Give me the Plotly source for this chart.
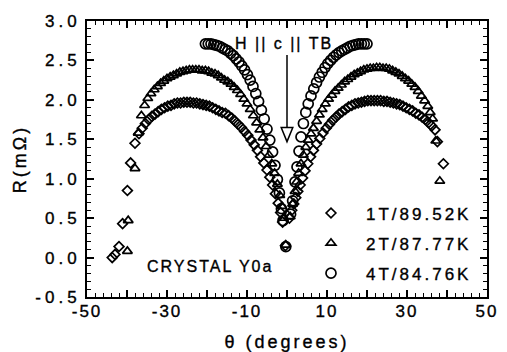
import plotly.graph_objects as go

# Resistance vs field angle for crystal Y0a at three field/temperature settings
theta_1T = [-43.7, -43.0, -42.0, -41.1, -39.9, -39.1, -38.0, -37.0, -36.2, -35.4,
            -34.6, -33.8, -33.0, -32.2, -31.4, -30.6, -29.8, -29.0, -28.2, -27.4,
            -26.6, -25.8, -25.0, -24.2, -23.4, -22.6, -21.8, -21.0, -20.2, -19.4,
            -18.6, -17.8, -17.0, -16.2, -15.4, -14.6, -13.8, -13.0, -12.2, -11.4,
            -10.6, -9.8, -9.0, -8.2, -7.4, -6.6, -5.8, -5.0, -4.3, -3.6,
            -2.9, -2.2, -1.6, -1.1, -0.4, 0.6, 1.2, 1.7, 2.2, 2.7,
            3.3, 3.9, 4.5, 5.2, 5.9, 6.6, 7.4, 8.2, 9.0, 9.8,
            10.6, 11.4, 12.2, 13.0, 13.8, 14.6, 15.4, 16.2, 17.0, 17.8,
            18.6, 19.4, 20.2, 21.0, 21.8, 22.6, 23.4, 24.2, 25.0, 25.8,
            26.6, 27.4, 28.2, 29.0, 29.8, 30.6, 31.4, 32.2, 33.0, 33.8,
            34.6, 35.4, 36.2, 37.0, 37.6, 39.1]
r_1T = [0.00, 0.04, 0.14, 0.43, 0.85, 1.20, 1.45, 1.57, 1.64, 1.70,
        1.75, 1.79, 1.82, 1.85, 1.88, 1.90, 1.92, 1.93, 1.95, 1.96,
        1.96, 1.97, 1.97, 1.97, 1.96, 1.96, 1.95, 1.94, 1.93, 1.92,
        1.90, 1.88, 1.86, 1.84, 1.83, 1.80, 1.77, 1.73, 1.69, 1.65,
        1.60, 1.55, 1.49, 1.43, 1.36, 1.28, 1.20, 1.11, 1.02, 0.92,
        0.81, 0.69, 0.57, 0.45, 0.15, 0.50, 0.60, 0.68, 0.76, 0.84,
        0.92, 1.01, 1.10, 1.19, 1.28, 1.36, 1.44, 1.51, 1.58, 1.64,
        1.69, 1.74, 1.78, 1.82, 1.85, 1.88, 1.91, 1.93, 1.95, 1.96,
        1.97, 1.98, 1.99, 1.99, 1.99, 1.99, 1.99, 1.98, 1.98, 1.97,
        1.96, 1.95, 1.94, 1.92, 1.90, 1.88, 1.86, 1.83, 1.81, 1.78,
        1.75, 1.71, 1.67, 1.62, 1.47, 1.19]

theta_2T = [-39.9, -39.7, -38.0, -37.2, -36.4, -35.6, -34.8, -34.0, -33.2, -32.4,
            -31.6, -30.8, -30.0, -29.2, -28.4, -27.6, -26.8, -26.0, -25.2, -24.4,
            -23.6, -22.8, -22.0, -21.2, -20.4, -19.6, -18.8, -18.0, -17.2, -16.4,
            -15.6, -14.8, -14.0, -13.2, -12.4, -11.6, -10.8, -10.0, -9.2, -8.4,
            -7.6, -6.8, -6.0, -5.2, -4.5, -3.8, -3.1, -2.4, -1.8, -1.3,
            -0.9, -0.3, 0.8, 1.4, 2.0, 2.4, 2.9, 3.5, 4.1, 4.7,
            5.3, 6.0, 6.6, 7.4, 8.1, 8.8, 9.6, 10.4, 11.2, 12.0,
            12.8, 13.6, 14.4, 15.2, 16.0, 16.8, 17.6, 18.4, 19.2, 20.0,
            20.8, 21.6, 22.4, 23.2, 24.0, 24.8, 25.6, 26.4, 27.2, 28.0,
            28.8, 29.6, 30.4, 31.2, 32.0, 32.8, 33.6, 34.4, 35.2, 35.8,
            36.4, 37.2, 38.2]
r_2T = [0.08, 0.47, 1.13, 1.58, 1.80, 1.93, 2.02, 2.08, 2.13, 2.17,
        2.21, 2.24, 2.27, 2.29, 2.31, 2.33, 2.35, 2.36, 2.37, 2.38,
        2.38, 2.38, 2.38, 2.37, 2.37, 2.36, 2.34, 2.33, 2.31, 2.28,
        2.25, 2.23, 2.20, 2.16, 2.12, 2.07, 2.01, 1.95, 1.88, 1.80,
        1.71, 1.62, 1.52, 1.41, 1.30, 1.19, 1.07, 0.93, 0.79, 0.65,
        0.50, 0.16, 0.52, 0.68, 0.84, 0.96, 1.07, 1.19, 1.30, 1.40,
        1.49, 1.57, 1.64, 1.73, 1.81, 1.88, 1.95, 2.01, 2.06, 2.11,
        2.15, 2.19, 2.23, 2.26, 2.29, 2.32, 2.34, 2.36, 2.38, 2.39,
        2.40, 2.40, 2.41, 2.41, 2.40, 2.40, 2.39, 2.37, 2.35, 2.33,
        2.30, 2.27, 2.24, 2.20, 2.16, 2.11, 2.05, 1.99, 1.92, 1.84,
        1.76, 1.48, 0.97]

theta_4T = [-20.4, -19.7, -19.0, -18.3, -17.6, -16.9, -16.2, -15.5, -14.8, -14.1,
            -13.4, -12.7, -12.0, -11.3, -10.6, -9.9, -9.2, -8.5, -7.8, -7.1,
            -6.4, -5.7, -5.0, -4.3, -3.6, -3.0, -2.4, -1.9, -1.4, -1.0,
            -0.3, 0.9, 1.4, 2.0, 2.5, 3.0, 3.5, 4.1, 4.7, 5.3,
            6.0, 6.7, 7.4, 8.1, 8.8, 9.5, 10.2, 10.9, 11.6, 12.3,
            13.0, 13.7, 14.4, 15.1, 15.8, 16.5, 17.2, 17.9, 18.6, 19.3, 20.0]
r_4T = [2.71, 2.71, 2.71, 2.70, 2.69, 2.68, 2.66, 2.64, 2.62, 2.59,
        2.56, 2.52, 2.48, 2.43, 2.38, 2.32, 2.25, 2.17, 2.08, 1.98,
        1.87, 1.76, 1.63, 1.49, 1.34, 1.17, 0.99, 0.82, 0.62, 0.47,
        0.14, 0.55, 0.72, 0.96, 1.15, 1.35, 1.53, 1.70, 1.84, 1.95,
        2.05, 2.14, 2.22, 2.29, 2.35, 2.41, 2.46, 2.50, 2.54, 2.57,
        2.60, 2.62, 2.64, 2.66, 2.68, 2.69, 2.70, 2.71, 2.71, 2.71, 2.71]

series_names = ["1T/89.52K", "2T/87.77K", "4T/84.76K"]

x_tick_vals = [-50, -40, -30, -20, -10, 0, 10, 20, 30, 40, 50]
x_tick_text = ["-50", "", "-30", "", "-10", "", "10", "", "30", "", "50"]
y_tick_vals = [-0.5, 0.0, 0.5, 1.0, 1.5, 2.0, 2.5, 3.0]
y_tick_text = ["-0.5", "0.0", "0.5", "1.0", "1.5", "2.0", "2.5", "3.0"]

FONT = "Liberation Sans, Arial, Helvetica, sans-serif"

fig = go.Figure()
styles = [("diamond-open", 7.5), ("triangle-up-open", 8.5), ("circle-open", 10)]
for name, th, r, (sym, size) in zip(series_names,
                                    [theta_1T, theta_2T, theta_4T],
                                    [r_1T, r_2T, r_4T], styles):
    fig.add_trace(go.Scatter(
        x=th, y=r, mode="markers", name=name, legendgroup=name,
        marker=dict(symbol=sym, size=size, color="black",
                    line=dict(color="black", width=1.7)),
    ))

axis_common = dict(
    showline=True, linewidth=2, linecolor="black", mirror="ticks",
    ticks="inside", ticklen=7, tickwidth=1.5, tickcolor="black",
    showgrid=False, zeroline=False,
    tickfont=dict(family=FONT, size=17, color="black"),
)

fig.update_layout(
    width=507, height=352,
    margin=dict(l=87, r=20, t=21, b=54.5, autoexpand=False),
    paper_bgcolor="white", plot_bgcolor="white",
    font=dict(family=FONT, size=17, color="black"),
    xaxis=dict(
        range=[-50, 50], tickmode="array", tickvals=x_tick_vals, ticktext=x_tick_text,
        minor=dict(tickvals=[v for v in range(-50, 51, 2) if v % 10],
                   ticks="inside", ticklen=4, tickwidth=1.2, tickcolor="black"),
        title=dict(text="θ (degrees)", font=dict(family=FONT, size=18), standoff=17),
        ticklabelstandoff=-2,
        **axis_common,
    ),
    yaxis=dict(
        range=[-0.5, 3.0], tickmode="array", tickvals=y_tick_vals, ticktext=y_tick_text,
        minor=dict(tickvals=[round(-0.5 + 0.1 * i, 1) for i in range(36)],
                   ticks="inside", ticklen=4, tickwidth=1.2, tickcolor="black"),
        title=dict(text="R(mΩ)", font=dict(family=FONT, size=18), standoff=20),
        ticklabelstandoff=1,
        **axis_common,
    ),
    legend=dict(
        x=0.5225, y=0.368, xanchor="left", yanchor="top",
        bgcolor="rgba(0,0,0,0)", font=dict(family=FONT, size=17),
        itemwidth=60, tracegroupgap=5, traceorder="grouped",
    ),
    showlegend=True,
    annotations=[
        dict(text="H || c || TB", x=-0.75, y=2.72, xref="x", yref="y",
             showarrow=False, font=dict(family=FONT, size=16)),
        dict(text="CRYSTAL Y0a", x=-32.75, y=-0.11, xref="x", yref="y",
             xanchor="left", showarrow=False, font=dict(family=FONT, size=16)),
    ],
    shapes=[
        # arrow pointing at the H || c orientation
        dict(type="line", xref="x", yref="y", x0=0, x1=0, y0=2.57, y1=1.65,
             line=dict(color="black", width=1.5)),
        dict(type="path", xref="x", yref="y",
             path="M -1.45,1.65 L 1.45,1.65 L 0,1.47 Z",
             line=dict(color="black", width=1.5), fillcolor="white"),
    ],
)

# widen the character spacing of all labels and darken the glyphs slightly
css = (".xtick text{letter-spacing:2px}"
       ".ytick text{letter-spacing:4px}"
       ".legendtext{letter-spacing:3px}"
       ".annotation-text{letter-spacing:2px}"
       ".xtitle,.ytitle{letter-spacing:3px}"
       ".main-svg text{stroke:#000;stroke-width:0.35px}"
       ".legend *{clip-path:none !important}")
post = ("var s=document.createElement('style');s.textContent='" + css +
        "';document.head.appendChild(s);")

fig.write_html("out.html", post_script=post)
